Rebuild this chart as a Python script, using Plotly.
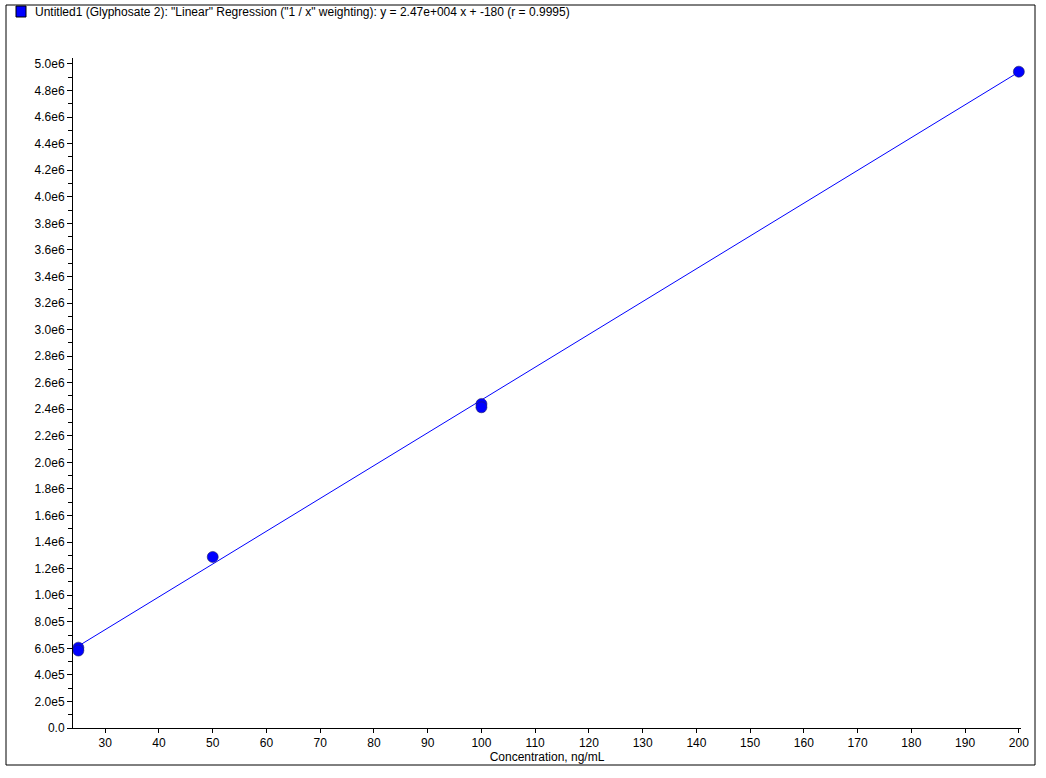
import plotly.graph_objects as go

# Calibration standards (concentration, ng/mL ; response)
conc = [25, 25, 50, 100, 100, 200]
resp = [6.05e5, 5.83e5, 1.288e6, 2.44e6, 2.415e6, 4.942e6]

# Regression parameters (from the title)
slope = 2.47e4
intercept = -180.0
fit_x = [25, 200]
fit_y = [slope * v + intercept for v in fit_x]

x_ticks = list(range(30, 201, 10))
y_tickvals = [i * 2e5 for i in range(26)]
y_ticktext = ["0.0"] + ["%.1fe5" % (v / 1e5) for v in y_tickvals[1:5]] + ["%.1fe6" % (v / 1e6) for v in y_tickvals[5:]]

title_text = 'Untitled1 (Glyphosate 2): "Linear" Regression ("1 / x" weighting): y = 2.47e+004 x + -180 (r = 0.9995)'

font = "Liberation Sans, Arial, sans-serif"

W, H = 1046, 778
L, R, T, B = 73, 1021, 58, 728
PW, PH = R - L, B - T


def px(x):
    return (x - L) / PW


def py(y):
    return (B - y) / PH


fig = go.Figure()
fig.add_trace(go.Scatter(x=fit_x, y=fit_y, mode="lines",
                         line=dict(color="#0000FF", width=1), hoverinfo="skip"))
fig.add_trace(go.Scatter(x=conc, y=resp, mode="markers", cliponaxis=False,
                         marker=dict(color="#0000FF", size=11,
                                     line=dict(color="#202060", width=0.6))))

fig.update_layout(
    width=W, height=H,
    margin=dict(l=L, r=W - R, t=T, b=H - B, autoexpand=False),
    paper_bgcolor="white", plot_bgcolor="white",
    showlegend=False,
    font=dict(family=font, size=12, color="black"),
    xaxis=dict(range=[24, 200.4], tickvals=x_ticks, ticks="outside", ticklen=4,
               tickcolor="black", showline=True, linecolor="black", linewidth=1,
               showgrid=False, zeroline=False, automargin=False,
               title=dict(text="Concentration, ng/mL", standoff=2, font=dict(size=12)),
               tickfont=dict(size=12)),
    yaxis=dict(range=[0, 5.045e6], tickvals=y_tickvals, ticktext=y_ticktext,
               ticks="outside", ticklen=5, tickcolor="black", automargin=False,
               showline=True, linecolor="black", linewidth=1,
               showgrid=False, zeroline=False, tickfont=dict(size=12),
               minor=dict(dtick=1e5, tick0=0, ticks="outside", ticklen=4,
                          tickcolor="black", showgrid=False)),
    shapes=[
        dict(type="rect", xref="paper", yref="paper",
             x0=px(6), x1=px(1035), y0=py(765), y1=py(5),
             line=dict(color="black", width=1), fillcolor="rgba(0,0,0,0)", layer="below"),
        dict(type="rect", xref="paper", yref="paper",
             x0=px(16), x1=px(26), y0=py(17), y1=py(6),
             line=dict(color="black", width=1), fillcolor="#0000FF"),
    ],
    annotations=[
        dict(text=title_text, xref="paper", yref="paper",
             x=px(33), y=py(12), xanchor="left", yanchor="middle",
             showarrow=False, font=dict(size=12, family=font)),
    ],
)

fig.write_html("out.html", config={"displayModeBar": False},
               post_script="document.body.style.margin='0';document.body.style.overflow='hidden';")
